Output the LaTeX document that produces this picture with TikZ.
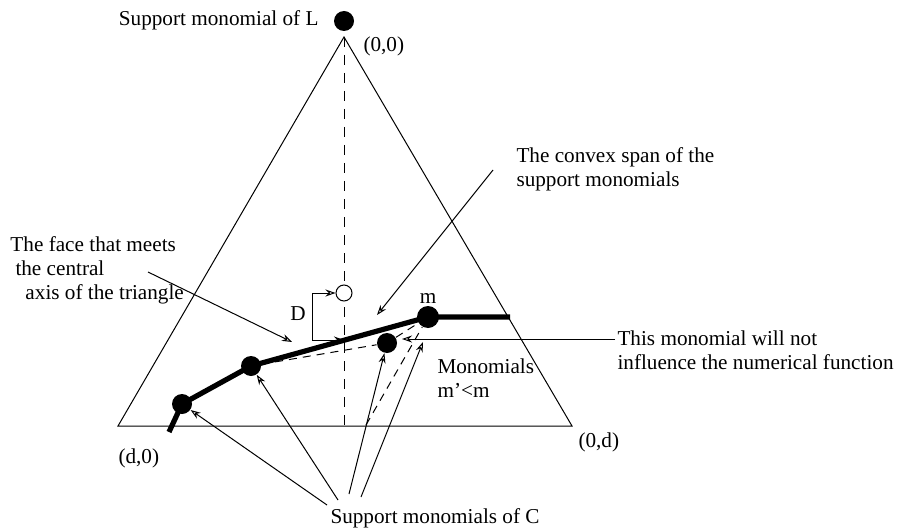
\documentclass[tikz,border=0pt]{standalone}
\usepackage{fontspec}
\setmainfont{Liberation Serif}
\usetikzlibrary{arrows.meta}
\tikzset{
  dot/.style={circle, fill=black, inner sep=0pt, minimum size=10pt},
  hole/.style={circle, draw, fill=white, inner sep=0pt, minimum size=8pt},
  lbl/.style={inner sep=0pt, align=left, font=\fontsize{10.6}{12}\selectfont},
  arr/.style={-{Stealth[open,length=5pt,width=3.5pt]}},
  dsh/.style={dash pattern=on 4pt off 3pt},
  axis/.style={dash pattern=on 5pt off 4pt},
  hull/.style={line width=2.6pt},
}

\begin{document}
\begin{tikzpicture}[x=0.5pt,y=-0.5pt,line width=0.5pt]
  \useasboundingbox (0,0) rectangle (897,529);
  % the triangle and its central axis
  \coordinate (top) at (344,37);
  \coordinate (bl) at (118,426);
  \coordinate (br) at (572,426);
  \coordinate (mid) at (344,426);
  \draw (top) -- (bl) -- (br) -- cycle;
  \draw[axis] (top) -- (mid);
  \node[hole] (hit) at (344,293) {};
  \coordinate (cut) at (344,340);

  % support monomials
  \node[dot] (L) at (344,21) {};
  \coordinate (h0) at (169,432);
  \coordinate (h1) at (510,317);
  \node[dot] (c1) at (182,404) {};
  \node[dot] (c2) at (251,366) {};
  \node[dot, minimum size=11pt] (m) at (428,317) {};
  \node[dot] (mp) at (387,343) {};
  \draw[hull] (h0) -- (c1.center) -- (c2.center) -- (m.center) -- (h1);
  \coordinate (q) at (366,425);
  \draw[dsh] (c2) -- (mp) -- (m);
  \draw[dsh] (q) -- (m);

  % D
  \coordinate (dtop) at (312,293);
  \coordinate (dbot) at (312,340);
  \draw[arr] (dtop) -- (hit);
  \draw[arr] (dtop) -- (dbot) -- (cut);

  % labels
  \node[lbl, anchor=base east] (lL) at (319,26) {Support monomial of L};
  \node[lbl, anchor=base west] (l00) at (363,52) {(0,0)};
  \node[lbl, anchor=base west] (ld0) at (118,463) {(d,0)};
  \node[lbl, anchor=base west] (l0d) at (578,447) {(0,d)};
  \node[lbl, anchor=base] (lD) at (298,320) {D};
  \node[lbl, anchor=base] (lm) at (428,303) {m};
  \node[lbl, anchor=north west] (lspan) at (516,147)
    {The convex span of the\\support monomials};
  \node[lbl, anchor=north west] (lface) at (10,236)
    {The face that meets\\\hspace{2.5pt}the central\\\hspace{7.5pt}axis of the triangle};
  \node[lbl, anchor=north west] (lnot) at (617,330)
    {This monomial will not\\influence the numerical function};
  \node[lbl, anchor=north west] (lless) at (437,358) {Monomials\\m’<m};
  \node[lbl, anchor=base west] (lC) at (330,523) {Support monomials of C};

  % pointers
  \coordinate (sp) at (493,170);
  \coordinate (spt) at (377,315);
  \draw[arr] (sp) -- (spt);
  \coordinate (fa) at (148,272);
  \coordinate (fat) at (292,342);
  \draw[arr] (fa) -- (fat);
  \coordinate (w) at (615,339);
  \coordinate (wt) at (402,339);
  \draw[arr] (w) -- (wt);
  \coordinate (s1) at (327,505);
  \coordinate (s2) at (338,500);
  \coordinate (s3) at (349,494);
  \coordinate (s4) at (361,497);
  \coordinate (t4) at (423,342);
  \draw[arr] (s1) -- (c1);
  \draw[arr] (s2) -- (c2);
  \draw[arr] (s3) -- (mp);
  \draw[arr] (s4) -- (t4);
\end{tikzpicture}
\end{document}
